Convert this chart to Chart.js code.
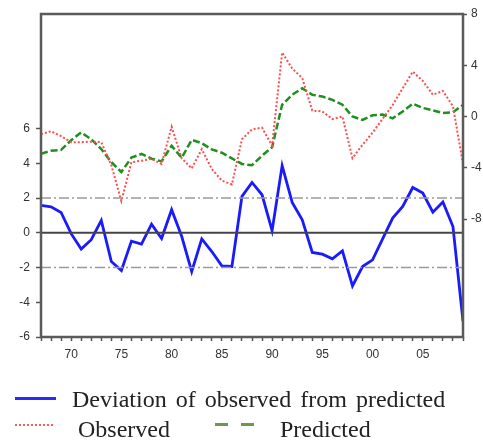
<!DOCTYPE html>
<html>
<head>
<meta charset="utf-8">
<script src="https://cdn.jsdelivr.net/npm/chart.js@4/dist/chart.umd.min.js"></script>
<style>
  html, body { margin: 0; padding: 0; background: #fff; }
  #wrap { position: relative; width: 483px; height: 442px; overflow: hidden; }
  #resid { position: absolute; left: 0; top: 0; }
  .key { position: absolute; font-family: "Liberation Serif", serif; font-size: 24px; line-height: 24px; color: #222; white-space: nowrap; }
  .swatch { position: absolute; height: 0; }
</style>
</head>
<body>
<div id="wrap">
  <canvas id="resid" width="483" height="442"></canvas>
  <div class="swatch" style="left:15px; top:397px; width:41px; border-top:3px solid #2a2aff;"></div>
  <div class="key" style="left:72px; top:387px; word-spacing:3px;">Deviation of observed from predicted</div>
  <div class="swatch" style="left:15px; top:424px; width:38px; border-top:2px dotted #ff5a5a;"></div>
  <div class="key" style="left:78px; top:417px;">Observed</div>
  <div class="swatch" style="left:215px; top:423px; width:13px; border-top:3px solid #6a9a4a;"></div>
  <div class="swatch" style="left:241px; top:423px; width:13px; border-top:3px solid #6a9a4a;"></div>
  <div class="key" style="left:280px; top:417px;">Predicted</div>
</div>
<script>
const years = [];
for (let y = 1967; y <= 2009; y++) years.push(y);

// residual (left axis)
const deviation = [
  1.58, 1.5, 1.17, -0.05, -0.94, -0.4, 0.71, -1.65, -2.17, -0.48,
  -0.65, 0.5, -0.33, 1.33, -0.2, -2.23, -0.35, -1.08, -1.9, -1.94,
  2.1, 2.9, 2.19, 0.12, 3.87, 1.75, 0.75, -1.13, -1.23, -1.5,
  -1.04, -3.06, -1.94, -1.56, -0.35, 0.85, 1.52, 2.61, 2.29, 1.19,
  1.77, 0.36, -5.1
];

// actual and fitted (right axis)
const observed = [
  -1.38, -1.15, -1.53, -2.0, -2.0, -1.96, -2.0, -3.8, -6.6, -3.56,
  -3.45, -3.3, -3.7, -0.8, -3.25, -4.05, -2.54, -4.1, -5.0, -5.3,
  -1.77, -1.0, -0.87, -2.28, 5.0, 3.75, 3.0, 0.47, 0.4, -0.2,
  0.0, -3.25, -2.2, -1.26, -0.17, 0.9, 2.2, 3.5, 2.78, 1.7,
  2.0, 0.8, -3.7
];
const predicted = [
  -2.9, -2.67, -2.6, -1.85, -1.24, -1.77, -2.54, -3.56, -4.33, -3.2,
  -2.92, -3.28, -3.5, -2.28, -3.22, -1.82, -2.08, -2.57, -2.82, -3.26,
  -3.7, -3.8, -3.05, -2.4, 0.92, 1.7, 2.2, 1.7, 1.56, 1.3,
  0.92, 0.0, -0.27, 0.1, 0.15, -0.14, 0.4, 1.0, 0.67, 0.48,
  0.28, 0.34, 0.9
];

const bands = [2, -2];

const toXY = arr => arr.map((v, i) => ({ x: years[i], y: v }));
const flat = v => [{ x: years[0], y: v }, { x: years[years.length - 1], y: v }];

// frame around the plot area (top edge has no axis of its own)
const framePlugin = {
  id: 'frame',
  afterDatasetsDraw(chart) {
    const { ctx, chartArea: a } = chart;
    ctx.save();
    ctx.strokeStyle = '#5a5a5a';
    ctx.lineWidth = 2.5;
    ctx.strokeRect(a.left, a.top, a.right - a.left, a.bottom - a.top);
    ctx.restore();
  }
};

const tickFont = { family: 'Liberation Sans, Arial, sans-serif', size: 12 };

new Chart(document.getElementById('resid'), {
  type: 'line',
  data: {
    datasets: [
      { data: flat(0), yAxisID: 'y', borderColor: '#444', borderWidth: 2, pointRadius: 0 },
      { data: flat(bands[0]), yAxisID: 'y', borderColor: '#9a9a9a', borderWidth: 1.5, borderDash: [10, 3, 2, 3], pointRadius: 0 },
      { data: flat(bands[1]), yAxisID: 'y', borderColor: '#9a9a9a', borderWidth: 1.5, borderDash: [10, 3, 2, 3], pointRadius: 0 },
      { data: toXY(observed), yAxisID: 'y2', borderColor: '#ff4d4d', borderWidth: 2, borderDash: [2, 2], pointRadius: 0 },
      { data: toXY(predicted), yAxisID: 'y2', borderColor: '#1f8f1f', borderWidth: 2.5, borderDash: [7, 3], pointRadius: 0 },
      { data: toXY(deviation), yAxisID: 'y', borderColor: '#1a1aff', borderWidth: 2.8, pointRadius: 0 }
    ]
  },
  options: {
    responsive: false,
    animation: false,
    layout: { padding: { top: 14, left: 0, right: 0, bottom: 0 } },
    plugins: { legend: { display: false }, tooltip: { enabled: false } },
    scales: {
      x: {
        type: 'linear',
        min: 1967,
        max: 2009,
        afterFit(scale) { scale.height = 105; },
        grid: { drawOnChartArea: false, tickLength: 4, tickColor: '#555', tickWidth: 1.5 },
        border: { display: false },
        ticks: {
          stepSize: 1,
          autoSkip: false,
          maxRotation: 0,
          padding: 6,
          color: '#333',
          font: tickFont,
          callback: v => (v % 5 === 0 ? String(v % 100).padStart(2, '0') : '')
        }
      },
      y: {
        position: 'left',
        min: -6,
        max: 12.6,
        afterFit(scale) { scale.width = 41; },
        afterBuildTicks(scale) { scale.ticks = scale.ticks.filter(t => t.value <= 6); },
        grid: { drawOnChartArea: false, tickLength: 5, tickColor: '#555', tickWidth: 1.5 },
        border: { display: false },
        ticks: { stepSize: 2, padding: 6, color: '#333', font: tickFont }
      },
      y2: {
        position: 'right',
        min: -17.2,
        max: 8,
        afterFit(scale) { scale.width = 20; },
        afterBuildTicks(scale) { scale.ticks = scale.ticks.filter(t => t.value >= -8); },
        grid: { drawOnChartArea: false, tickLength: 4, tickColor: '#555', tickWidth: 1.5 },
        border: { display: false },
        ticks: { stepSize: 4, padding: 4, color: '#333', font: tickFont }
      }
    }
  },
  plugins: [framePlugin]
});
</script>
</body>
</html>
